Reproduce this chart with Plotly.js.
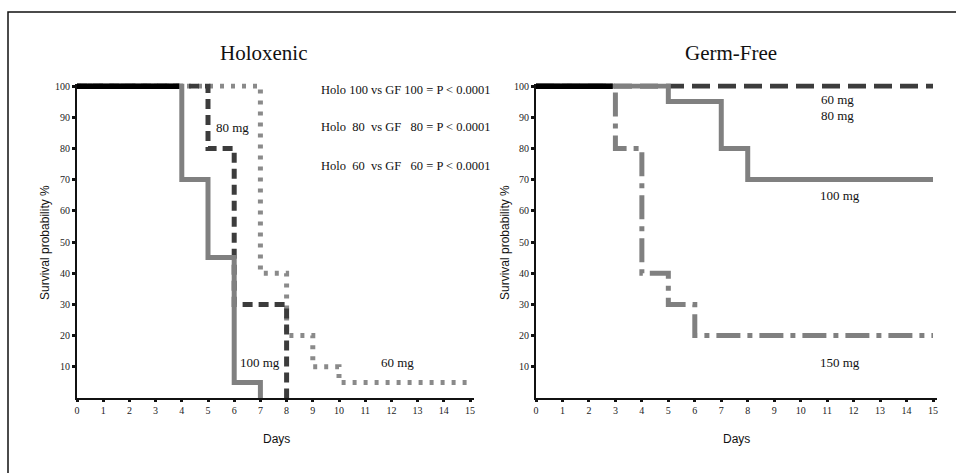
<!DOCTYPE html>
<html>
<head>
<meta charset="utf-8">
<script src="https://cdn.plot.ly/plotly-3.0.1.min.js"></script>
<style>html,body{margin:0;padding:0;background:#fff;}#chart{width:956px;height:473px;}</style>
</head>
<body>
<div id="chart"></div>
<script>
// ---- Data ----
// Holoxenic (left panel): step curves (time of change, survival %)
const holoCommonX = [0, 3.9];
const holoCommonY = [100, 100];
const holo100X = [0, 4, 5, 6, 7];
const holo100Y = [100, 70, 45, 5, 0];
const holo80X = [0, 5, 6, 8];
const holo80Y = [100, 80, 30, 0];
const holo60X = [0, 7, 8, 9, 10, 15];
const holo60Y = [100, 40, 20, 10, 5, 5];

// Germ-Free (right panel)
const gfCommonX = [0, 2.9];
const gfCommonY = [100, 100];
const gf150X = [0, 3, 4, 5, 6, 15];
const gf150Y = [100, 80, 40, 30, 20, 20];
const gf100X = [0, 5, 7, 8, 15];
const gf100Y = [100, 95, 80, 70, 70];
const gf6080X = [0, 15];
const gf6080Y = [100, 100];

const dayTicks = [0,1,2,3,4,5,6,7,8,9,10,11,12,13,14,15];
const survTicks = [10,20,30,40,50,60,70,80,90,100];
const pTexts = [
  "Holo 100 vs GF 100 = P &lt; 0.0001",
  "Holo&nbsp; 80&nbsp; vs GF&nbsp;&nbsp; 80 = P &lt; 0.0001",
  "Holo&nbsp; 60&nbsp; vs GF&nbsp;&nbsp; 60 = P &lt; 0.0001"
];

// ---- Styles ----
const GRAY = '#808080', DARK = '#3c3c3c';
const serif = 'Liberation Serif, Times New Roman, serif';
const sans = 'Liberation Sans, Arial, sans-serif';
const W = 956, H = 473;
const px = v => v / W, py = v => 1 - v / H;

function tr(x, y, xa, ya, color, dash, width) {
  return {x: x, y: y, xaxis: xa, yaxis: ya, type: 'scatter', mode: 'lines',
    line: {shape: 'hv', color: color, dash: dash, width: width || 5},
    hoverinfo: 'skip', showlegend: false};
}

const data = [
  tr(holo60X, holo60Y, 'x', 'y', '#8a8a8a', '4px,7px'),
  tr(holo80X, holo80Y, 'x', 'y', DARK, '10px,6px'),
  tr(holo100X, holo100Y, 'x', 'y', GRAY, 'solid'),
  tr(holoCommonX, holoCommonY, 'x', 'y', '#000', 'solid', 6),
  tr(gf6080X, gf6080Y, 'x2', 'y2', DARK, '18px,8px'),
  tr(gf150X, gf150Y, 'x2', 'y2', GRAY, '24px,7px,5px,7px'),
  tr(gf100X, gf100Y, 'x2', 'y2', GRAY, 'solid'),
  tr(gfCommonX, gfCommonY, 'x2', 'y2', '#000', 'solid', 6)
];

function xax(domain, anchor) {
  return {domain: domain, anchor: anchor, range: [0, 15.15], showgrid: false, zeroline: false,
    showline: true, linecolor: '#111', linewidth: 2,
    tickmode: 'array', tickvals: dayTicks, ticktext: dayTicks.map(String),
    ticks: 'outside', ticklen: 2, tickwidth: 3, tickcolor: '#111',
    tickfont: {family: serif, size: 10, color: '#222'}, fixedrange: true};
}
function yax(domain, anchor) {
  return {domain: domain, anchor: anchor, range: [0, 100.8], showgrid: false, zeroline: false,
    showline: true, linecolor: '#111', linewidth: 2,
    tickmode: 'array', tickvals: survTicks, ticktext: survTicks.map(String),
    ticks: 'outside', ticklen: 3, tickwidth: 3, tickcolor: '#111',
    tickfont: {family: serif, size: 10, color: '#222'}, fixedrange: true};
}

const yDom = [1 - 398 / H, 1 - 83.5 / H];
const ann = [];
function txt(x, y, text, size, font, extra) {
  ann.push(Object.assign({x: x, y: y, xref: 'paper', yref: 'paper', text: text, showarrow: false,
    font: {family: font, size: size, color: '#111'}, xanchor: 'center', yanchor: 'middle'}, extra || {}));
}
function dtxt(x, y, xr, yr, text, size, extra) {
  ann.push(Object.assign({x: x, y: y, xref: xr, yref: yr, text: text, showarrow: false,
    font: {family: serif, size: size, color: '#111'}, xanchor: 'center', yanchor: 'middle'}, extra || {}));
}
// panel titles
txt(px(263), py(53), 'Holoxenic', 21, serif);
txt(px(731), py(53), 'Germ-Free', 21, serif);
// axis titles
txt(px(276), py(439), 'Days', 12, sans);
txt(px(736), py(439), 'Days', 12, sans);
txt(px(45), py(243), 'Survival probability %', 12, sans, {textangle: -90});
txt(px(505), py(243), 'Survival probability %', 12, sans, {textangle: -90});
// p-values
const pY = [98.6, 86.8, 74.3];
pTexts.forEach((t, i) => dtxt(9.24, pY[i], 'x', 'y', t, 12.5, {xanchor: 'left'}));
// curve labels
dtxt(5.95, 86.6, 'x', 'y', '80 mg', 13);
dtxt(6.98, 11.3, 'x', 'y', '100 mg', 13);
dtxt(12.25, 11.3, 'x', 'y', '60 mg', 13);
dtxt(11.4, 95.6, 'x2', 'y2', '60 mg', 13);
dtxt(11.4, 90.7, 'x2', 'y2', '80 mg', 13);
dtxt(11.5, 65.0, 'x2', 'y2', '100 mg', 13);
dtxt(11.5, 11.5, 'x2', 'y2', '150 mg', 13);

const layout = {
  width: W, height: H, margin: {l: 0, r: 0, t: 0, b: 0},
  paper_bgcolor: '#fff', plot_bgcolor: 'rgba(0,0,0,0)',
  xaxis: xax([77 / W, (470 + 0.15 * 26.2) / W], 'y'),
  yaxis: yax(yDom, 'x'),
  xaxis2: xax([536 / W, (933 + 0.15 * 26.47) / W], 'y2'),
  yaxis2: yax(yDom, 'x2'),
  annotations: ann,
  shapes: [{type: 'rect', xref: 'paper', yref: 'paper', x0: px(8), x1: 1.02, y0: -0.02, y1: py(12),
    line: {color: '#111', width: 1.5}, fillcolor: 'rgba(0,0,0,0)'}]
};

Plotly.newPlot('chart', data, layout, {displayModeBar: false, staticPlot: true});
</script>
</body>
</html>
